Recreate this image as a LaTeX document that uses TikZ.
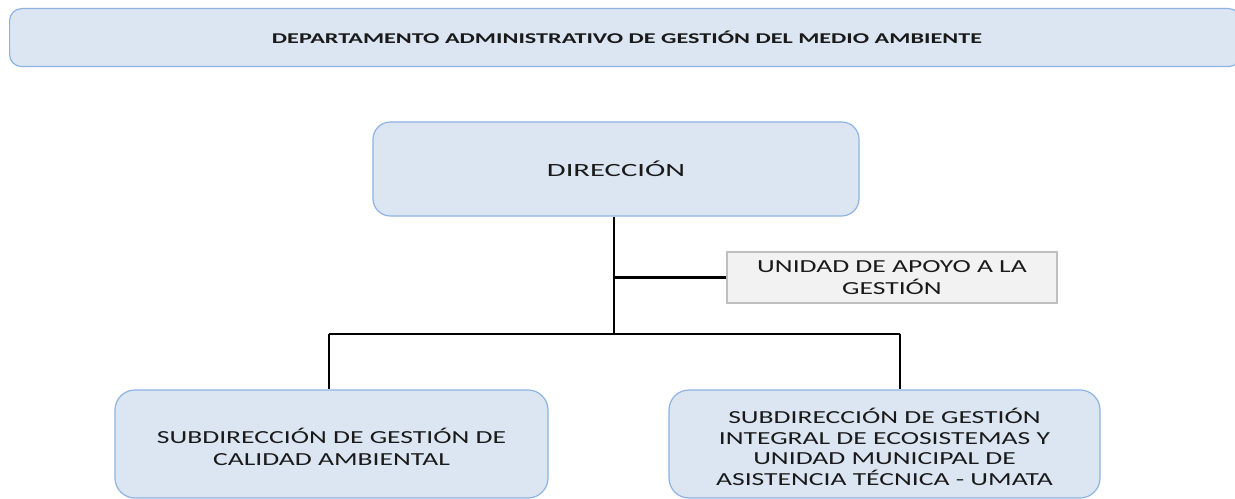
\documentclass[tikz,border=0pt]{standalone}
\usepackage{fontspec}
\setmainfont{Carlito}
\newfontfamily\bodyfont[FakeStretch=1.5]{Carlito}
\newfontfamily\dirfont[FakeStretch=1.64]{Carlito}
\newfontfamily\bannerfont[FakeStretch=1.62]{Carlito}
\definecolor{boxfill}{HTML}{DCE6F2}
\definecolor{boxline}{HTML}{8DB3E2}
\definecolor{grayfill}{HTML}{F2F2F2}
\definecolor{grayline}{HTML}{BFBFBF}
\definecolor{txt}{HTML}{1A1A1A}
\tikzset{
  bluebox/.style={draw=boxline, fill=boxfill, line width=0.9pt, rounded corners=13pt, text=txt, align=center, inner sep=0pt},
  graybox/.style={draw=grayline, fill=grayfill, line width=0.9pt, text=txt, align=center, inner sep=0pt},
  conn/.style={draw=black, line width=2.2pt},
  thinconn/.style={draw=black, line width=1.6pt},
}
\begin{document}
\begin{tikzpicture}[x=0.75pt,y=-0.75pt]
\useasboundingbox (0,0) rectangle (1235,499);
\fill[white] (0,0) rectangle (1235,499);
% banner
\node[bluebox, rounded corners=9pt, minimum width=1231*0.75pt, minimum height=58*0.75pt, anchor=north west] (banner) at (9,8) {};
\node[text=txt, font=\bannerfont\bfseries\fontsize{11.2}{13}\selectfont] (bannertext) at (627,37) {DEPARTAMENTO ADMINISTRATIVO DE GESTIÓN DEL MEDIO AMBIENTE};
% direccion
\node[bluebox, minimum width=486*0.75pt, minimum height=94*0.75pt, font=\dirfont\fontsize{14}{16}\selectfont] (dir) at (616,169) {DIRECCIÓN};
% unidad de apoyo
\node[graybox, minimum width=330*0.75pt, minimum height=51*0.75pt, font=\bodyfont\fontsize{13.8}{16.5}\selectfont] (apoyo) at (892,277.5) {UNIDAD DE APOYO A LA\\GESTIÓN};
% subdirecciones
\node[bluebox, rounded corners=15pt, minimum width=433*0.75pt, minimum height=108*0.75pt, font=\bodyfont\fontsize{13.8}{17}\selectfont] (sub1) at (331.5,444) {\rule{0pt}{16pt}SUBDIRECCIÓN DE GESTIÓN DE\\CALIDAD AMBIENTAL};
\node[bluebox, rounded corners=15pt, minimum width=431*0.75pt, minimum height=108*0.75pt, font=\bodyfont\fontsize{13.8}{15.4}\selectfont] (sub2) at (884.5,444) {\rule{0pt}{16pt}SUBDIRECCIÓN DE GESTIÓN\\INTEGRAL DE ECOSISTEMAS Y\\UNIDAD MUNICIPAL DE\\ASISTENCIA TÉCNICA - UMATA};
% connectors
\coordinate (j) at (614,334);
\coordinate (lft) at (329,334);
\coordinate (rgt) at (900,334);
\draw[conn] (dir.south -| j) -- (j);
\draw[thinconn] (j |- apoyo.west) -- (apoyo.west);
\draw[thinconn] (lft) -- (rgt);
\draw[conn] (lft) -- (lft |- sub1.north);
\draw[conn] (rgt) -- (rgt |- sub2.north);
\end{tikzpicture}
\end{document}
